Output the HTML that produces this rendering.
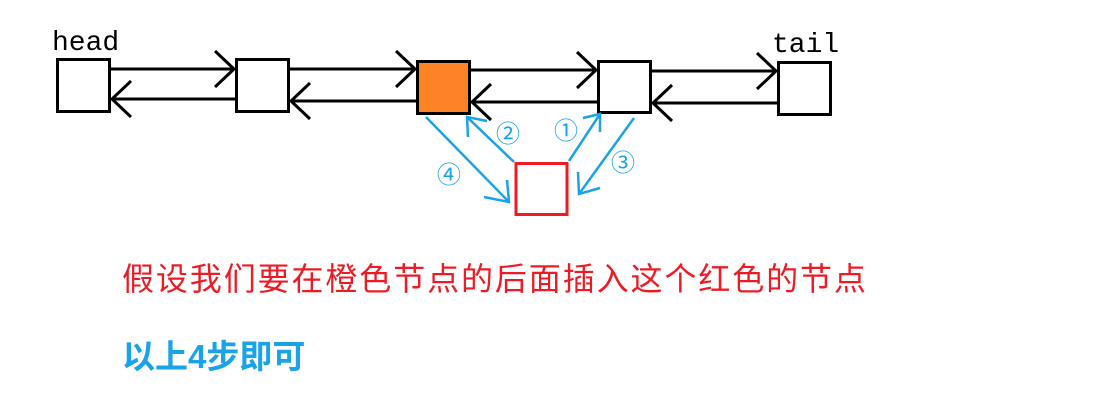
<!DOCTYPE html>
<html><head><meta charset="utf-8"><style>
body{margin:0;background:#fff;width:1093px;height:411px;overflow:hidden}
svg{position:absolute;left:0;top:0}
</style></head><body>
<svg width="1093" height="411" xmlns="http://www.w3.org/2000/svg">
<g stroke="#000" stroke-width="3" fill="none">
<rect x="57.5" y="59.5" width="52" height="52" fill="#fff"/>
<rect x="236.5" y="59.5" width="52" height="52" fill="#fff"/>
<rect x="417.5" y="61.5" width="52" height="52" fill="#fd8324"/>
<rect x="598.5" y="61.5" width="52" height="51" fill="#fff"/>
<rect x="778.5" y="62.5" width="52" height="52" fill="#fff"/>
<path d="M110 69H234M215 51L234 69L215 87"/>
<path d="M289 69H415M396 51L415 69L396 87"/>
<path d="M470 70H596M577 52L596 70L577 88"/>
<path d="M651 71H776M757 53L776 71L757 89"/>
<path d="M236 99H112M131 81L112 99L131 117"/>
<path d="M417 101H291M310 83L291 101L310 119"/>
<path d="M598 102H472M491 84L472 102L491 120"/>
<path d="M778 103H653M672 85L653 103L672 121"/>
</g>
<rect x="516" y="163.5" width="51" height="51" fill="#fff" stroke="#ed1c24" stroke-width="3"/>
<g stroke="#1aa3e8" stroke-width="2.5" fill="none">
<path d="M426 117L509 202M484 197L509 202L507 180"/>
<path d="M514 162L467 117M468 137L467 117L487 121"/>
<path d="M569 161L600 114M583 118L600 114L600 132"/>
<path d="M634 118L579 194M578 172L579 194L600 188"/>
</g>
<g font-family="'Noto Sans CJK SC',sans-serif" font-size="24" fill="#1aa3e8">
<text x="496" y="142">②</text>
<text x="554" y="139">①</text>
<text x="611" y="171">③</text>
<text x="437" y="183">④</text>
</g>
<g font-family="'Liberation Mono',monospace" font-size="28" fill="#000">
<text x="52" y="50">head</text>
<text x="772" y="52">tail</text>
</g>
<text x="122" y="290" font-family="'Liberation Sans','Noto Sans CJK SC',sans-serif" font-size="32" letter-spacing="1.9" fill="#ed1c24">假设我们要在橙色节点的后面插入这个红色的节点</text>
<text x="122" y="368" font-family="'Liberation Sans','Noto Sans CJK SC',sans-serif" font-size="33" font-weight="bold" fill="#1aa3e8">以上4步即可</text>
</svg>
</body></html>
